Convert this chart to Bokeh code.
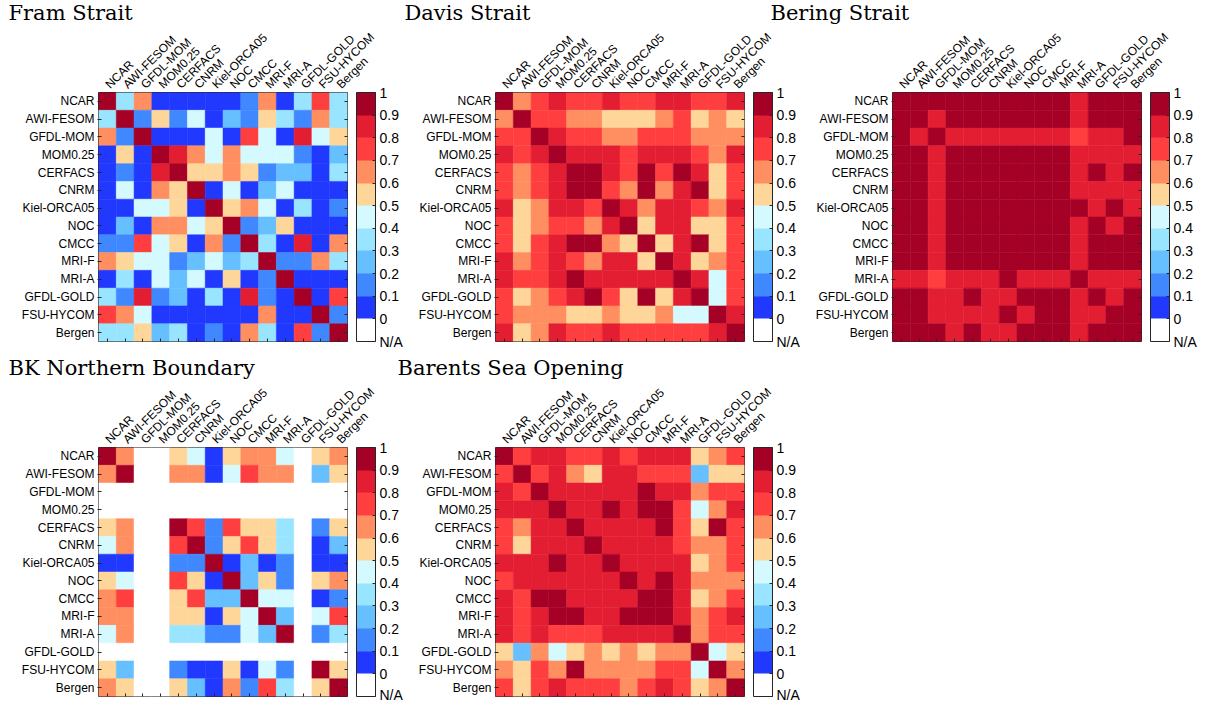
import numpy as np
from bokeh.plotting import figure
from bokeh.models import (ColumnDataSource, LinearColorMapper, ColorBar, FixedTicker,
                          CategoricalAxis)
from bokeh.layouts import row, column
from bokeh.embed import file_html
from bokeh.resources import INLINE
from bokeh.transform import transform

NA = float("nan")

models = ["NCAR", "AWI-FESOM", "GFDL-MOM", "MOM0.25", "CERFACS", "CNRM", "Kiel-ORCA05",
          "NOC", "CMCC", "MRI-F", "MRI-A", "GFDL-GOLD", "FSU-HYCOM", "Bergen"]

cb_ticks = [-0.1, 0.0, 0.1, 0.2, 0.3, 0.4, 0.5, 0.6, 0.7, 0.8, 0.9, 1.0]
cb_labels = ["N/A", "0", "0.1", "0.2", "0.3", "0.4", "0.5", "0.6", "0.7", "0.8", "0.9", "1"]
palette = ["#FFFFFF", "#2138FF", "#3F88FF", "#66BFFF", "#99E5FF", "#D4FAFF",
           "#FFD699", "#FF8E60", "#FF3F3F", "#E31E33", "#A50026"]

fram_strait = [
    [.95, .35, .65, .05, .05, .05, .05, .05, .15, .65, .05, .35, .75, .35],
    [.35, .95, .15, .55, .15, .45, .05, .25, .15, .55, .35, .15, .65, .35],
    [.65, .15, .95, .05, .05, .05, .45, .05, .75, .45, .05, .85, .45, .55],
    [.05, .55, .05, .95, .85, .65, .45, .65, .45, .45, .45, .15, .05, .25],
    [.05, .15, .05, .85, .95, .55, .55, .65, .55, .15, .25, .25, .05, .35],
    [.05, .45, .05, .65, .55, .95, .05, .45, .05, .25, .45, .05, .05, .05],
    [.05, .05, .45, .45, .55, .05, .95, .55, .65, .45, .05, .35, .05, .15],
    [.05, .25, .05, .65, .65, .45, .55, .95, .15, .25, .55, .05, .05, .05],
    [.15, .15, .75, .45, .55, .05, .65, .15, .95, .35, .05, .85, .05, .65],
    [.65, .55, .45, .45, .15, .25, .45, .25, .35, .95, .15, .15, .65, .35],
    [.05, .35, .05, .45, .25, .45, .05, .55, .05, .15, .95, .05, .05, .05],
    [.35, .15, .85, .15, .25, .05, .35, .05, .85, .15, .05, .95, .05, .75],
    [.75, .65, .45, .05, .05, .05, .05, .05, .05, .65, .05, .05, .95, .15],
    [.35, .35, .55, .25, .35, .05, .15, .05, .65, .35, .05, .75, .15, .95],
]

davis_strait = [
    [.95, .65, .75, .85, .75, .75, .85, .75, .75, .85, .85, .75, .75, .85],
    [.65, .95, .75, .75, .65, .65, .55, .55, .55, .65, .75, .55, .65, .55],
    [.75, .75, .95, .85, .75, .75, .65, .65, .75, .75, .75, .65, .65, .65],
    [.85, .75, .85, .95, .85, .85, .85, .75, .85, .85, .85, .75, .65, .85],
    [.75, .65, .75, .85, .95, .95, .85, .75, .95, .75, .95, .85, .55, .75],
    [.75, .65, .75, .85, .95, .95, .75, .65, .95, .65, .85, .95, .55, .75],
    [.85, .55, .65, .85, .85, .75, .95, .85, .65, .85, .85, .75, .65, .85],
    [.75, .55, .65, .75, .75, .65, .85, .95, .55, .85, .85, .55, .55, .75],
    [.75, .55, .75, .85, .95, .95, .65, .55, .95, .55, .85, .95, .55, .75],
    [.85, .65, .75, .85, .75, .65, .85, .85, .55, .95, .85, .55, .65, .75],
    [.85, .75, .75, .85, .95, .85, .85, .85, .85, .85, .95, .85, .45, .75],
    [.75, .55, .65, .75, .85, .95, .75, .55, .95, .55, .85, .95, .45, .75],
    [.75, .65, .65, .65, .55, .55, .65, .55, .55, .65, .45, .45, .95, .85],
    [.85, .55, .65, .85, .75, .75, .85, .75, .75, .75, .75, .75, .85, .95],
]

bering_strait = [
    [.95, .95, .95, .95, .95, .95, .95, .95, .95, .95, .85, .95, .95, .95],
    [.95, .95, .85, .95, .95, .95, .95, .95, .95, .95, .85, .95, .95, .95],
    [.95, .85, .95, .85, .85, .85, .85, .85, .85, .85, .75, .85, .85, .95],
    [.95, .95, .85, .95, .95, .95, .95, .95, .95, .95, .85, .85, .85, .85],
    [.95, .95, .85, .95, .95, .95, .95, .95, .95, .95, .85, .95, .85, .95],
    [.95, .95, .85, .95, .95, .95, .95, .95, .95, .95, .85, .85, .85, .85],
    [.95, .95, .85, .95, .95, .95, .95, .95, .95, .95, .95, .85, .95, .85],
    [.95, .95, .85, .95, .95, .95, .95, .95, .95, .95, .85, .95, .85, .95],
    [.95, .95, .85, .95, .95, .95, .95, .95, .95, .95, .85, .95, .95, .95],
    [.95, .95, .85, .95, .95, .95, .95, .95, .95, .95, .85, .95, .95, .95],
    [.85, .85, .75, .85, .85, .85, .95, .85, .85, .85, .95, .85, .85, .85],
    [.95, .95, .85, .85, .95, .85, .85, .95, .95, .95, .85, .95, .85, .95],
    [.95, .95, .85, .85, .85, .85, .95, .85, .95, .95, .85, .85, .95, .95],
    [.95, .95, .95, .85, .95, .85, .85, .95, .95, .95, .85, .95, .95, .95],
]

bk_northern_boundary = [
    [.95, .65, NA, NA, .55, .45, .05, .55, .65, .65, .45, NA, .55, .65],
    [.65, .95, NA, NA, .65, .65, .05, .45, .75, .65, .65, NA, .25, .55],
    [NA, NA, NA, NA, NA, NA, NA, NA, NA, NA, NA, NA, NA, NA],
    [NA, NA, NA, NA, NA, NA, NA, NA, NA, NA, NA, NA, NA, NA],
    [.55, .65, NA, NA, .95, .75, .15, .75, .55, .55, .35, NA, .15, .55],
    [.45, .65, NA, NA, .75, .95, .15, .55, .75, .55, .35, NA, .05, .25],
    [.05, .05, NA, NA, .15, .15, .95, .05, .25, .05, .15, NA, .05, .05],
    [.55, .45, NA, NA, .75, .55, .05, .95, .25, .55, .15, NA, .55, .65],
    [.65, .75, NA, NA, .55, .75, .25, .25, .95, .45, .45, NA, .05, .15],
    [.65, .65, NA, NA, .55, .55, .05, .55, .45, .95, .25, NA, .45, .75],
    [.45, .65, NA, NA, .35, .35, .15, .15, .45, .25, .95, NA, .15, .35],
    [NA, NA, NA, NA, NA, NA, NA, NA, NA, NA, NA, NA, NA, NA],
    [.55, .25, NA, NA, .15, .05, .05, .55, .05, .45, .15, NA, .95, .55],
    [.65, .55, NA, NA, .55, .25, .05, .65, .15, .75, .35, NA, .55, .95],
]

barents_sea_opening = [
    [.95, .75, .85, .85, .75, .75, .85, .75, .85, .85, .85, .55, .65, .75],
    [.75, .95, .75, .85, .65, .55, .85, .85, .75, .75, .75, .25, .55, .55],
    [.85, .75, .95, .85, .85, .85, .85, .85, .95, .85, .85, .65, .75, .75],
    [.85, .85, .85, .95, .85, .85, .95, .85, .95, .95, .75, .45, .65, .85],
    [.75, .65, .85, .85, .95, .85, .85, .85, .85, .95, .75, .55, .95, .75],
    [.75, .55, .85, .85, .85, .95, .85, .85, .85, .85, .75, .65, .65, .75],
    [.85, .85, .85, .95, .85, .85, .95, .85, .85, .85, .85, .55, .65, .75],
    [.75, .85, .85, .85, .85, .85, .85, .95, .85, .95, .85, .65, .65, .65],
    [.85, .75, .95, .95, .85, .85, .85, .85, .95, .95, .85, .55, .65, .75],
    [.85, .75, .85, .95, .95, .85, .85, .95, .95, .95, .85, .65, .75, .85],
    [.85, .75, .85, .75, .75, .75, .85, .85, .85, .85, .95, .65, .75, .75],
    [.55, .25, .65, .45, .55, .65, .55, .65, .55, .65, .65, .95, .45, .55],
    [.65, .55, .75, .65, .95, .65, .65, .65, .65, .75, .75, .45, .95, .65],
    [.75, .55, .75, .85, .75, .75, .75, .65, .75, .85, .75, .55, .65, .95],
]

SANS = "Liberation Sans"
SERIF = "DejaVu Serif"
EDGE = "#262626"
FW = 249


def panel(title, mat, left, right, top, bottom, toff, shift=0):
    xs, ys, vs = [], [], []
    for i, rname in enumerate(models):
        for j, cname in enumerate(models):
            xs.append(cname)
            ys.append(rname)
            vs.append(mat[i][j])
    src = ColumnDataSource(dict(x=xs, y=ys, v=np.array(vs, dtype=float)))
    mapper = LinearColorMapper(palette=palette, low=-0.1, high=1.0, nan_color="#FFFFFF")
    p = figure(x_range=models, y_range=models[::-1], frame_width=FW, frame_height=FW,
               min_border_left=left, min_border_right=right, min_border_top=top,
               min_border_bottom=bottom, x_axis_location="above", toolbar_location=None,
               tools="", output_backend="svg", title=title)
    if shift:
        p.margin = (0, 0, 0, -shift)
    p.rect(x="x", y="y", width=1, height=1, source=src,
           fill_color=transform("v", mapper), line_color=transform("v", mapper), line_width=0.5)
    p.grid.visible = False
    p.outline_line_color = EDGE
    p.outline_line_width = 1
    p.outline_line_alpha = 1
    p.background_fill_color = "#FFFFFF"
    p.border_fill_color = None

    p.title.align = "left"
    p.title.offset = toff
    p.title.standoff = -4
    p.title.text_font = SERIF
    p.title.text_font_size = "21px"
    p.title.text_font_style = "normal"
    p.title.text_color = "#000000"

    xa = p.xaxis[0]
    xa.major_label_orientation = np.pi / 4
    xa.major_label_text_font = SANS
    xa.major_label_text_font_size = "12px"
    xa.major_label_text_color = "#000000"
    xa.major_tick_line_color = None
    xa.axis_line_color = None
    xa.major_label_standoff = 0

    ya = p.yaxis[0]
    ya.major_label_text_font = SANS
    ya.major_label_text_font_size = "12px"
    ya.major_label_text_color = "#000000"
    ya.major_tick_in = 3
    ya.major_tick_out = 1
    ya.major_tick_line_color = EDGE
    ya.axis_line_color = None
    ya.major_label_standoff = 3

    bx = CategoricalAxis(major_label_text_font_size="1px", major_label_text_color=None,
                         major_tick_in=3, major_tick_out=0, major_tick_line_color=EDGE,
                         axis_line_color=None, major_label_standoff=0)
    p.add_layout(bx, "below")
    ry = CategoricalAxis(major_label_text_font_size="1px", major_label_text_color=None,
                         major_tick_in=3, major_tick_out=0, major_tick_line_color=EDGE,
                         axis_line_color=None, major_label_standoff=0)
    p.add_layout(ry, "right")

    cb = ColorBar(color_mapper=mapper, ticker=FixedTicker(ticks=cb_ticks),
                  major_label_overrides=dict(zip(cb_ticks, cb_labels)),
                  width=19, height=FW, padding=0, margin=0, location=(258, 0),
                  label_standoff=4, major_label_text_font=SANS,
                  major_label_text_font_size="14px", major_label_text_color="#000000",
                  major_tick_line_color=EDGE, major_tick_in=3, major_tick_out=0,
                  bar_line_color=EDGE, border_line_color=None, background_fill_color=None)
    p.add_layout(cb)
    return p


pA = panel("Fram Strait", fram_strait, 98, 57, 92, 14, -90)
pB = panel("Davis Strait", davis_strait, 91, 56, 92, 14, -91)
pC = panel("Bering Strait", bering_strait, 122, 65, 92, 14, -122, shift=30)
pD = panel("BK Northern Boundary", bk_northern_boundary, 98, 57, 92, 6, -90)
pE = panel("Barents Sea Opening", barents_sea_opening, 101, 56, 92, 6, -98, shift=10)

layout = column(row(pA, pB, pC), row(pD, pE))
open("out.html", "w").write(file_html(layout, INLINE))
